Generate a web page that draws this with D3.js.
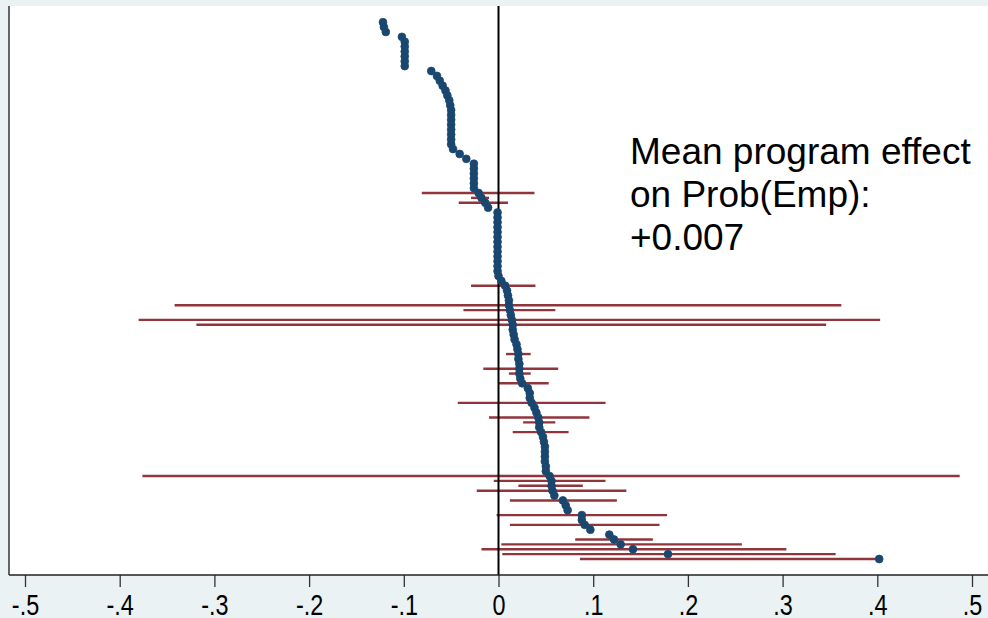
<!DOCTYPE html>
<html>
<head>
<meta charset="utf-8">
<script src="https://cdn.jsdelivr.net/npm/d3@7"></script>
<style>
  html, body { margin: 0; padding: 0; background: #eaf2f3; }
  svg { display: block; }
</style>
</head>
<body>
<svg id="chart"></svg>
<script>
// program effect per unit, sorted (row 0 = top)
const effects = [
  -0.122, -0.121, -0.119, -0.102, -0.099, -0.099, -0.099, -0.099, -0.099, -0.099,
  -0.071, -0.065, -0.062, -0.059, -0.056, -0.054, -0.052, -0.051, -0.050, -0.050,
  -0.050, -0.050, -0.050, -0.050, -0.050, -0.050, -0.048, -0.041, -0.034, -0.026,
  -0.026, -0.026, -0.026, -0.026, -0.026, -0.021, -0.018, -0.014, -0.011, -0.001,
  -0.001, -0.001, -0.001, -0.001, -0.001, -0.001, -0.001, -0.001, -0.001, -0.001,
  -0.001, -0.001, 0.000, 0.003, 0.007, 0.009, 0.010, 0.011, 0.011, 0.012,
  0.013, 0.014, 0.015, 0.015, 0.016, 0.017, 0.019, 0.020, 0.021, 0.021,
  0.022, 0.022, 0.022, 0.023, 0.025, 0.031, 0.033, 0.033, 0.035, 0.038,
  0.040, 0.042, 0.043, 0.043, 0.045, 0.047, 0.048, 0.049, 0.049, 0.049,
  0.049, 0.050, 0.050, 0.054, 0.056, 0.056, 0.057, 0.059, 0.068, 0.071,
  0.073, 0.088, 0.088, 0.091, 0.097, 0.117, 0.122, 0.129, 0.142, 0.179,
  0.402
];

// confidence intervals, only for some rows
const ciRows = [35, 36, 37, 54, 58, 59, 61, 62, 68, 71, 72, 74, 78, 81, 82, 84,
  93, 94, 95, 96, 98, 101, 103, 106, 107, 108, 109, 110];
const ciLow = [-0.081, -0.029, -0.042, -0.029, -0.342, -0.037, -0.380, -0.319, 0.008, -0.016,
  0.011, 0.000, -0.043, -0.010, 0.026, 0.015, -0.376, -0.005, 0.021, -0.023,
  0.012, -0.002, 0.012, 0.081, 0.003, -0.018, 0.004, 0.086];
const ciHigh = [0.038, -0.010, 0.010, 0.039, 0.362, 0.060, 0.403, 0.346, 0.034, 0.063,
  0.034, 0.053, 0.113, 0.096, 0.060, 0.074, 0.487, 0.113, 0.089, 0.135,
  0.125, 0.178, 0.170, 0.163, 0.257, 0.304, 0.356, 0.402];

const xTicks = [-0.5, -0.4, -0.3, -0.2, -0.1, 0, 0.1, 0.2, 0.3, 0.4, 0.5];
const noteLines = ['Mean program effect', 'on Prob(Emp):', '+0.007'];

const width = 988, height = 618;
const plot = {left: 9, top: 6, right: 988, bottom: 575};

const svg = d3.select('#chart')
  .attr('width', width)
  .attr('height', height);

svg.append('rect')
  .attr('width', width).attr('height', height)
  .attr('fill', '#eaf2f3');

svg.append('rect')
  .attr('x', plot.left).attr('y', plot.top)
  .attr('width', plot.right - plot.left)
  .attr('height', plot.bottom - plot.top)
  .attr('fill', '#fff');

const x = d3.scaleLinear()
  .domain([-0.5, 0.5])
  .range([25, 972]);

const y = d3.scaleLinear()
  .domain([0, effects.length - 1])
  .range([22.2, 559]);

// CI bars
svg.append('g')
  .selectAll('line')
  .data(ciRows.map((r, i) => ({r, lo: ciLow[i], hi: ciHigh[i]})))
  .join('line')
  .attr('x1', d => x(d.lo))
  .attr('x2', d => x(d.hi))
  .attr('y1', d => y(d.r))
  .attr('y2', d => y(d.r))
  .attr('stroke', '#90353b')
  .attr('stroke-width', 2.4);

// zero line
svg.append('line')
  .attr('x1', x(0)).attr('x2', x(0))
  .attr('y1', plot.top).attr('y2', plot.bottom)
  .attr('stroke', '#000')
  .attr('stroke-width', 2);

// point estimates
svg.append('g')
  .selectAll('circle')
  .data(effects)
  .join('circle')
  .attr('cx', d => x(d))
  .attr('cy', (d, i) => y(i))
  .attr('r', 3.9)
  .attr('fill', '#1a476f')
  .attr('stroke', '#1a476f')
  .attr('stroke-width', 0.8);

// left axis line
svg.append('line')
  .attr('x1', plot.left).attr('x2', plot.left)
  .attr('y1', plot.top).attr('y2', plot.bottom)
  .attr('stroke', '#333')
  .attr('stroke-width', 1.5);

// bottom axis
const fmt = d => d === 0 ? '0' : d3.format('.1f')(d).replace('0.', '.').replace('\u2212', '-');
const xAxis = g => g.attr('transform', `translate(0,${plot.bottom})`)
  .call(d3.axisBottom(x)
    .tickValues(xTicks)
    .tickSize(12)
    .tickPadding(0)
    .tickFormat(fmt))
  .call(g => g.select('.domain').remove())
  .call(g => g.selectAll('.tick line').attr('stroke', '#333').attr('stroke-width', 1.3))
  .call(g => g.selectAll('.tick text')
    .attr('fill', '#000')
    .attr('y', 40)
    .attr('dy', 0)
    .attr('transform', 'scale(0.78,1)')
    .style('font-family', '"Liberation Sans", Arial, sans-serif')
    .style('font-size', '30px'));
svg.append('g').call(xAxis);

svg.append('line')
  .attr('x1', plot.left).attr('x2', plot.right)
  .attr('y1', plot.bottom).attr('y2', plot.bottom)
  .attr('stroke', '#222')
  .attr('stroke-width', 1.5);

// note
svg.append('g')
  .selectAll('text')
  .data(noteLines)
  .join('text')
  .attr('x', 630)
  .attr('y', (d, i) => 164 + i * 43)
  .style('font-family', '"Liberation Sans", Arial, sans-serif')
  .style('font-size', '37px')
  .attr('fill', '#000')
  .text(d => d);
</script>
</body>
</html>
